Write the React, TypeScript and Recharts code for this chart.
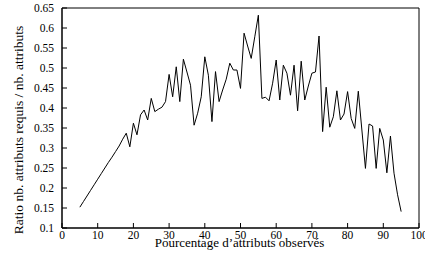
import React from 'react';
import { LineChart, Line, XAxis, YAxis, Label } from 'recharts';

const xValues = [
  5, 6, 7, 8, 9, 10, 11, 12, 13, 14, 15, 16, 17, 18, 19, 20, 21, 22, 23, 24,
  25, 26, 27, 28, 29, 30, 31, 32, 33, 34, 35, 36, 37, 38, 39, 40, 41, 42, 43, 44,
  45, 46, 47, 48, 49, 50, 51, 52, 53, 54, 55, 56, 57, 58, 59, 60, 61, 62, 63, 64,
  65, 66, 67, 68, 69, 70, 71, 72, 73, 74, 75, 76, 77, 78, 79, 80, 81, 82, 83, 84,
  85, 86, 87, 88, 89, 90, 91, 92, 93, 94, 95,
];

const ratioValues = [
  0.152, 0.166, 0.18, 0.194, 0.208, 0.222, 0.236, 0.25, 0.264, 0.277, 0.291, 0.305, 0.322, 0.337, 0.303, 0.362, 0.333, 0.383, 0.395, 0.37,
  0.424, 0.391, 0.397, 0.402, 0.416, 0.484, 0.428, 0.503, 0.416, 0.522, 0.49, 0.457, 0.357, 0.387, 0.428, 0.528, 0.482, 0.366, 0.491, 0.416,
  0.445, 0.472, 0.512, 0.495, 0.495, 0.449, 0.587, 0.555, 0.524, 0.578, 0.632, 0.424, 0.427, 0.418, 0.462, 0.52, 0.42, 0.507, 0.487, 0.432,
  0.507, 0.393, 0.517, 0.42, 0.455, 0.487, 0.49, 0.58, 0.341, 0.452, 0.352, 0.378, 0.443, 0.37, 0.385, 0.441, 0.374, 0.349, 0.442, 0.345,
  0.249, 0.36, 0.355, 0.249, 0.349, 0.32, 0.238, 0.33, 0.237, 0.183, 0.141,
];

const xTicks = [0, 10, 20, 30, 40, 50, 60, 70, 80, 90, 100];
const yTicks = [0.1, 0.15, 0.2, 0.25, 0.3, 0.35, 0.4, 0.45, 0.5, 0.55, 0.6, 0.65];

const xLabel = 'Pourcentage d\u2019attributs observés';
const yLabel = 'Ratio nb. attributs requis / nb. attributs';

const data = xValues.map((x, i) => ({ x, ratio: ratioValues[i] }));

const FONT = "'Liberation Serif', 'DejaVu Serif', serif";
const tickStyle = { fontSize: 11.5, fill: '#000', fontFamily: FONT };

const fmtY = (v: number) => String(+v.toFixed(2));

export default function App() {
  return (
    <div style={{ position: 'absolute', left: 0, top: 0 }}>
      <LineChart
        width={425}
        height={258}
        data={data}
        margin={{ top: 7, right: 5, bottom: 0, left: 0 }}
        style={{ fontFamily: FONT }}
      >
        <XAxis
          xAxisId="b"
          dataKey="x"
          type="number"
          domain={[0, 100]}
          ticks={xTicks}
          interval={0}
          height={30}
          tickSize={-5}
          tickMargin={7.5}
          tick={tickStyle}
          axisLine={{ stroke: '#000', strokeWidth: 1.5 }}
          tickLine={{ stroke: '#000' }}
        >
          <Label
            content={(props: any) => {
              const vb = props.viewBox || { x: 62, y: 228, width: 357, height: 30 };
              return (
                <text
                  x={vb.x + vb.width / 2 - 1}
                  y={vb.y + 18.5}
                  textAnchor="middle"
                  fontSize={13}
                  fontFamily={FONT}
                  fill="#000"
                >
                  {xLabel}
                </text>
              );
            }}
          />
        </XAxis>
        <XAxis
          xAxisId="t"
          orientation="top"
          dataKey="x"
          type="number"
          domain={[0, 100]}
          ticks={xTicks}
          interval={0}
          height={1}
          tickSize={-5}
          tick={false}
          axisLine={{ stroke: '#000' }}
          tickLine={{ stroke: '#000' }}
        />
        <YAxis
          yAxisId="l"
          type="number"
          domain={[0.1, 0.65]}
          ticks={yTicks}
          interval={0}
          width={62}
          tickSize={-5}
          tickMargin={13}
          tick={tickStyle}
          tickFormatter={fmtY}
          axisLine={{ stroke: '#000', strokeWidth: 1.5 }}
          tickLine={{ stroke: '#000' }}
        >
          <Label
            content={(props: any) => {
              const vb = props.viewBox || { x: 0, y: 8, width: 62, height: 220 };
              const cx = vb.x + 22.5;
              const cy = vb.y + vb.height / 2 + 12;
              return (
                <text
                  x={cx}
                  y={cy}
                  textAnchor="middle"
                  fontSize={13.5}
                  fontFamily={FONT}
                  fill="#000"
                  transform={`rotate(-90, ${cx}, ${cy})`}
                >
                  {yLabel}
                </text>
              );
            }}
          />
        </YAxis>
        <YAxis
          yAxisId="r"
          orientation="right"
          type="number"
          domain={[0.1, 0.65]}
          ticks={yTicks}
          interval={0}
          width={1}
          tickSize={-5}
          tick={false}
          axisLine={{ stroke: '#000' }}
          tickLine={{ stroke: '#000' }}
        />
        <Line
          xAxisId="b"
          yAxisId="l"
          type="linear"
          dataKey="ratio"
          stroke="#000"
          strokeWidth={1}
          dot={false}
          isAnimationActive={false}
        />
      </LineChart>
    </div>
  );
}
